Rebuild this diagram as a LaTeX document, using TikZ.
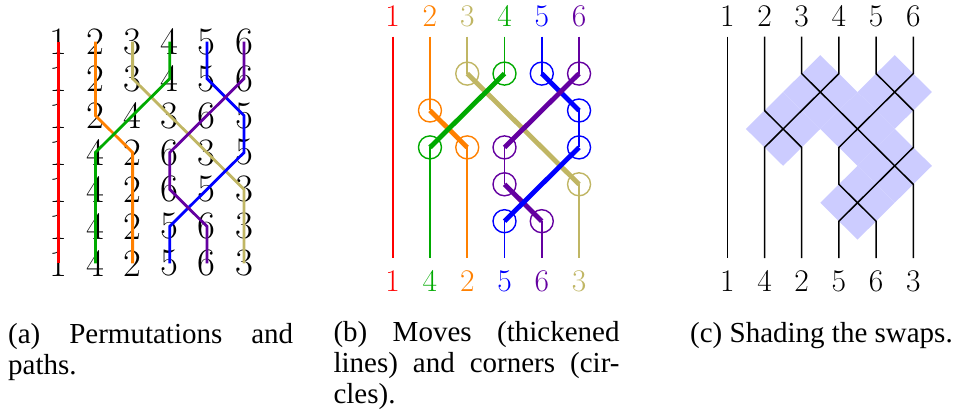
\documentclass[tikz,border=0pt]{standalone}
\usepackage{fontspec}
\newfontfamily\capfont{Liberation Serif}
\definecolor{pred}{RGB}{255,0,0}
\definecolor{porange}{RGB}{255,128,0}
\definecolor{polive}{RGB}{192,182,100}
\definecolor{pgreen}{RGB}{0,170,0}
\definecolor{pblue}{RGB}{0,0,255}
\definecolor{ppurple}{RGB}{100,0,160}
\definecolor{shadecol}{RGB}{204,204,255}
\tikzset{
  dig/.style={inner sep=0pt, anchor=center, font=\fontsize{38.8}{40}\selectfont},
  lab/.style={inner sep=0pt, anchor=base, font=\fontsize{31.5}{34}\selectfont},
  apath/.style={line width=2.8pt, line join=miter},
  thin/.style={line width=1.6pt},
  thick/.style={line width=4.8pt},
  corner/.style={line width=1.4pt},
  cpath/.style={line width=1.5pt, black},
  capt/.style={inner sep=0pt, anchor=base west, font=\capfont\fontsize{29}{31}\selectfont},
}
\begin{document}
\begin{tikzpicture}[x=1pt,y=-1pt]
\useasboundingbox (0,0) rectangle (955,419);
% grids
\foreach \j in {1,...,6}{
  \foreach \k in {0,...,6}{
    \coordinate (A\j-\k) at ({58.3+37.15*(\j-1)},{41.7+36.93*\k});
    \coordinate (B\j-\k) at ({392.7+37.27*(\j-1)},{36.7+36.9*\k});
    \coordinate (C\j-\k) at ({727.3+37.2*(\j-1)},{36.7+36.9*\k});
  }
}
\coordinate (ytop) at (0,26.3);
\coordinate (ybot) at (0,291.5);

% ---------------- (a) ----------------
\foreach \k/\p in {0/{1,2,3,4,5,6},1/{1,2,3,4,5,6},2/{1,2,4,3,6,5},3/{1,4,2,6,3,5},4/{1,4,2,6,5,3},5/{1,4,2,5,6,3},6/{1,4,2,5,6,3}}{
  \foreach \d [count=\j] in \p { \node[dig] (a\j-\k) at (A\j-\k) {\d}; }
}
\draw[apath,pred] (A1-0) -- (A1-6);
\draw[apath,porange] (A2-0) -- (A2-2) -- (A3-3) -- (A3-6);
\draw[apath,polive] (A3-0) -- (A3-1) -- (A6-4) -- (A6-6);
\draw[apath,pgreen] (A4-0) -- (A4-1) -- (A2-3) -- (A2-6);
\draw[apath,pblue] (A5-0) -- (A5-1) -- (A6-2) -- (A6-3) -- (A4-5) -- (A4-6);
\draw[apath,ppurple] (A6-0) -- (A6-1) -- (A4-3) -- (A4-4) -- (A5-5) -- (A5-6);

% ---------------- (b) ----------------
\foreach \j/\d/\c in {1/1/pred,2/2/porange,3/3/polive,4/4/pgreen,5/5/pblue,6/6/ppurple}{
  \node[lab,text=\c] (bt\j) at (B\j-0 |- ytop) {\d};
}
\foreach \j/\d/\c in {1/1/pred,2/4/pgreen,3/2/porange,4/5/pblue,5/6/ppurple,6/3/polive}{
  \node[lab,text=\c] (bb\j) at (B\j-6 |- ybot) {\d};
}
% thin parts
\draw[thin,pred] (B1-0) -- (B1-6);
\draw[thin,porange] (B2-0) -- (B2-2) (B3-3) -- (B3-6);
\draw[thin,polive] (B3-0) -- (B3-1) (B6-4) -- (B6-6);
\draw[thin,pgreen] (B4-0) -- (B4-1) (B2-3) -- (B2-6);
\draw[thin,pblue] (B5-0) -- (B5-1) (B6-2) -- (B6-3) (B4-5) -- (B4-6);
\draw[thin,ppurple] (B6-0) -- (B6-1) (B4-3) -- (B4-4) (B5-5) -- (B5-6);
% thick moves
\draw[thick,porange] (B2-2) -- (B3-3);
\draw[thick,polive] (B3-1) -- (B6-4);
\draw[thick,pgreen] (B4-1) -- (B2-3);
\draw[thick,ppurple] (B4-4) -- (B5-5);
\draw[thick,pblue] (B5-1) -- (B6-2) (B6-3) -- (B4-5);
\draw[thick,ppurple] (B6-1) -- (B4-3);
% corners
\foreach \p in {B2-2,B3-3}{\draw[corner,porange] (\p) circle[radius=11.5];}
\foreach \p in {B3-1,B6-4}{\draw[corner,polive] (\p) circle[radius=11.5];}
\foreach \p in {B4-1,B2-3}{\draw[corner,pgreen] (\p) circle[radius=11.5];}
\foreach \p in {B5-1,B6-2,B6-3,B4-5}{\draw[corner,pblue] (\p) circle[radius=11.5];}
\foreach \p in {B6-1,B4-3,B4-4,B5-5}{\draw[corner,ppurple] (\p) circle[radius=11.5];}

% ---------------- (c) ----------------
\foreach \cx/\cy in {3.5/1.5,2.5/2.5,4.5/2.5,5.5/1.5,5.5/3.5,4.5/4.5}{
  \fill[shadecol] ({727.3+37.2*(\cx-1)-37.2},{36.7+36.9*\cy})
    -- ({727.3+37.2*(\cx-1)},{36.7+36.9*\cy-36.9})
    -- ({727.3+37.2*(\cx-1)+37.2},{36.7+36.9*\cy})
    -- ({727.3+37.2*(\cx-1)},{36.7+36.9*\cy+36.9}) -- cycle;
}
\foreach \j in {1,...,6}{
  \node[lab] (ct\j) at (C\j-0 |- ytop) {\j};
}
\foreach \j/\d in {1/1,2/4,3/2,4/5,5/6,6/3}{
  \node[lab] (cb\j) at (C\j-6 |- ybot) {\d};
}
\draw[cpath] (C1-0) -- (C1-6);
\draw[cpath] (C2-0) -- (C2-2) -- (C3-3) -- (C3-6);
\draw[cpath] (C3-0) -- (C3-1) -- (C6-4) -- (C6-6);
\draw[cpath] (C4-0) -- (C4-1) -- (C2-3) -- (C2-6);
\draw[cpath] (C5-0) -- (C5-1) -- (C6-2) -- (C6-3) -- (C4-5) -- (C4-6);
\draw[cpath] (C6-0) -- (C6-1) -- (C4-3) -- (C4-4) -- (C5-5) -- (C5-6);

% ---------------- captions ----------------
\node[capt] (capa) at (8,343) {\parbox[t]{285pt}{(a) Permutations and\linebreak paths.}};
\node[capt] (capb) at (333.3,341.7) {\parbox[t]{286pt}{(b) Moves (thickened\linebreak lines) and corners (cir-\linebreak cles).}};
\node[capt] (capc) at (690,342) {(c) Shading the swaps.};
\end{tikzpicture}
\end{document}
